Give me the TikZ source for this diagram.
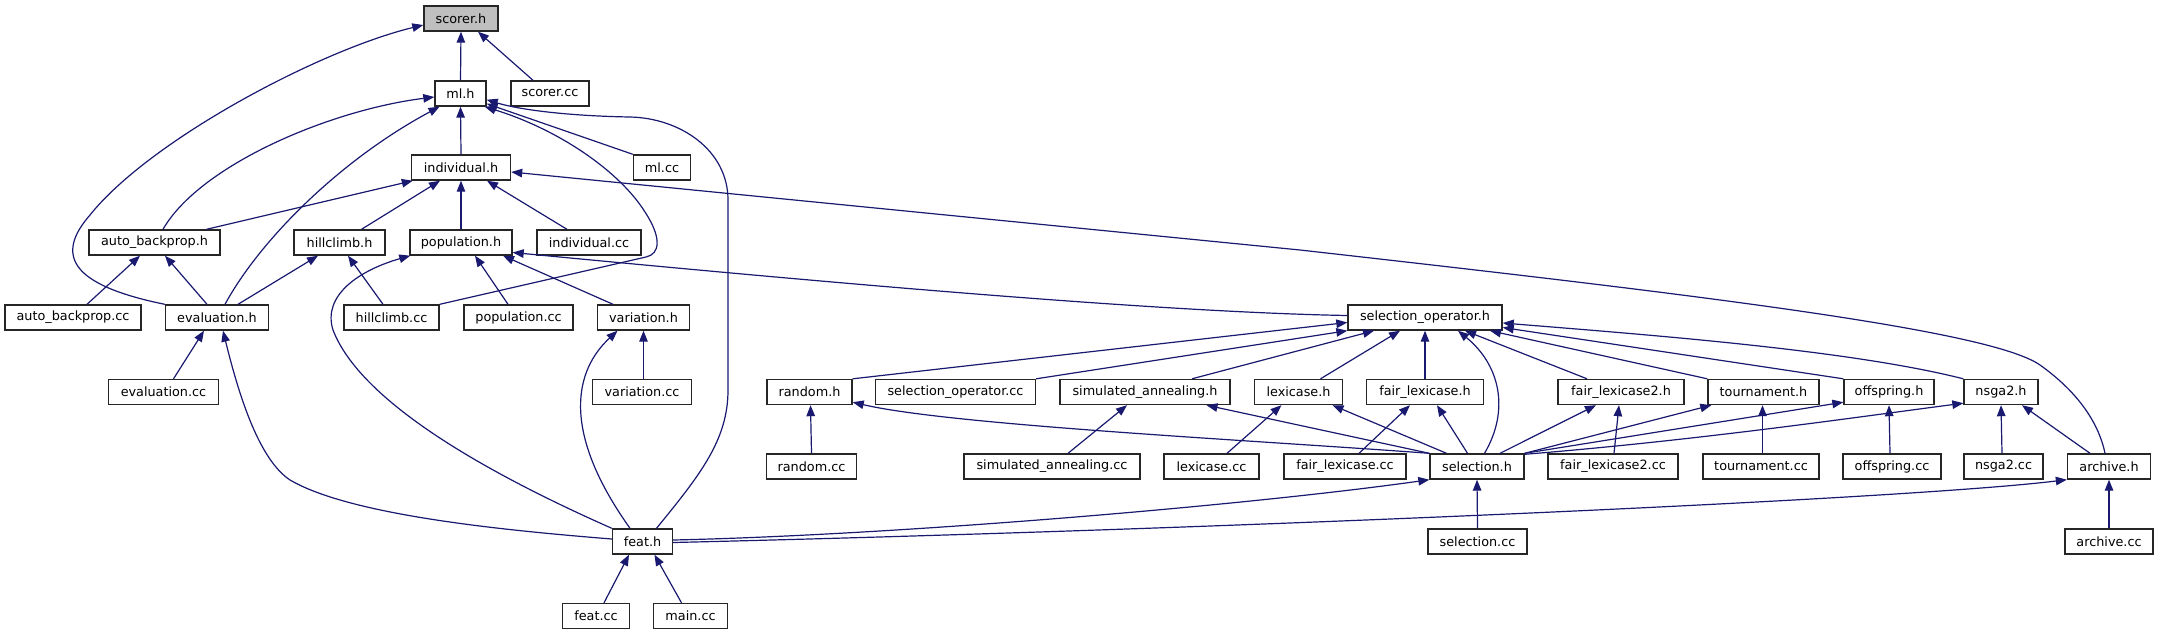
\documentclass[tikz,border=0pt]{standalone}
\usepackage{fontspec}
\setmainfont{DejaVu Sans}
\usetikzlibrary{arrows.meta}
\definecolor{midnight}{RGB}{25,25,112}
\definecolor{boxgray}{RGB}{191,191,191}
\begin{document}
\begin{tikzpicture}[x=1pt,y=-1pt,
  box/.style={draw=black!85, line width=1.4pt, minimum height=25pt, inner sep=0pt, fill=white,
    font=\fontsize{12.8pt}{15pt}\selectfont},
  dep/.style={draw=midnight, line width=1.2pt, {Triangle[length=11pt 0,width=8.5pt 0]}-}]
\useasboundingbox (0,0) rectangle (2159,635);
% row 0
\node[box, fill=boxgray, minimum width=74pt] (scorer) at (461,18.5) {scorer.h};
% row 1
\node[box, minimum width=51pt] (ml) at (460.5,93.5) {ml.h};
\node[box, minimum width=78pt] (scorercc) at (550,93.5) {scorer.cc};
% row 2
\node[box, minimum width=99pt] (ind) at (461,167.5) {individual.h};
\node[box, minimum width=57pt] (mlcc) at (662,167.5) {ml.cc};
% row 3
\node[box, minimum width=131pt] (ab) at (154.5,242.5) {auto\_backprop.h};
\node[box, minimum width=91pt] (hc) at (339.5,242.5) {hillclimb.h};
\node[box, minimum width=102pt] (pop) at (461,242.5) {population.h};
\node[box, minimum width=104pt] (indcc) at (589,242.5) {individual.cc};
% row 4
\node[box, minimum width=136pt] (abcc) at (73,317.5) {auto\_backprop.cc};
\node[box, minimum width=103pt] (ev) at (217,317.5) {evaluation.h};
\node[box, minimum width=95pt] (hcc) at (391.5,317.5) {hillclimb.cc};
\node[box, minimum width=109pt] (popcc) at (518.5,317.5) {population.cc};
\node[box, minimum width=92pt] (var) at (643.5,317.5) {variation.h};
\node[box, minimum width=154pt] (selop) at (1425,317.5) {selection\_operator.h};
% row 5
\node[box, minimum width=110pt] (evcc) at (163.5,392) {evaluation.cc};
\node[box, minimum width=99pt] (varcc) at (642,392) {variation.cc};
\node[box, minimum width=85pt] (rnd) at (809.5,392) {random.h};
\node[box, minimum width=160pt] (selopcc) at (955.5,392) {selection\_operator.cc};
\node[box, minimum width=170pt] (sah) at (1145,392) {simulated\_annealing.h};
\node[box, minimum width=88pt] (lex) at (1298.5,392) {lexicase.h};
\node[box, minimum width=117pt] (fl) at (1425,392) {fair\_lexicase.h};
\node[box, minimum width=126pt] (fl2) at (1621,392) {fair\_lexicase2.h};
\node[box, minimum width=111pt] (tour) at (1763.5,392) {tournament.h};
\node[box, minimum width=90pt] (off) at (1889,392) {offspring.h};
\node[box, minimum width=74pt] (nsga) at (2001,392) {nsga2.h};
% row 6
\node[box, minimum width=90pt] (rndcc) at (811.5,466.5) {random.cc};
\node[box, minimum width=176pt] (sacc) at (1052,466.5) {simulated\_annealing.cc};
\node[box, minimum width=95pt] (lexcc) at (1211.5,466.5) {lexicase.cc};
\node[box, minimum width=122pt] (flcc) at (1345,466.5) {fair\_lexicase.cc};
\node[box, minimum width=94pt] (sel) at (1477,466.5) {selection.h};
\node[box, minimum width=130pt] (fl2cc) at (1613,466.5) {fair\_lexicase2.cc};
\node[box, minimum width=116pt] (tourcc) at (1761,466.5) {tournament.cc};
\node[box, minimum width=98pt] (offcc) at (1892,466.5) {offspring.cc};
\node[box, minimum width=79pt] (nsgacc) at (2003.5,466.5) {nsga2.cc};
\node[box, minimum width=83pt] (arch) at (2109,466.5) {archive.h};
% row 7
\node[box, minimum width=60pt] (feat) at (642.5,541.5) {feat.h};
\node[box, minimum width=99pt] (selcc) at (1477.5,541.5) {selection.cc};
\node[box, minimum width=88pt] (archcc) at (2109,541.5) {archive.cc};
% row 8
\node[box, minimum width=67pt] (featcc) at (596,616) {feat.cc};
\node[box, minimum width=74pt] (maincc) at (690.5,616) {main.cc};

% ---- edges ----
\draw[dep] (scorer.south) -- (ml.north);
\draw[dep] ([xshift=17pt]scorer.south) -- ([xshift=-17pt]scorercc.north);
\draw[dep] ([yshift=-6.5pt]scorer.west) .. controls (320,50) and (150,140) .. (90,215) .. controls (55,255) and (70,285) .. (ev.north west);

\draw[dep] (ml.south) -- (ind.north);
\draw[dep] ([yshift=-3.5pt]ml.west) .. controls (330,110) and (200,165) .. ([xshift=8.5pt]ab.north);
\draw[dep] ([xshift=-21pt]ml.south) .. controls (340,160) and (260,240) .. ([xshift=8pt]ev.north);
\draw[dep] ([yshift=3pt]ml.south east) -- (mlcc.north west);
\draw[dep] ([xshift=-2pt]ml.south east) .. controls (560,130) and (620,172) .. (645,212) .. controls (662,238) and (660,254) .. (646,257) -- (hcc.north east);
\draw[dep] ([yshift=7pt]ml.south east) .. controls (520,110) and (570,116) .. (630,117) .. controls (680,118) and (728,150) .. (728,200) -- (728,390) .. controls (728,440) and (700,475) .. ([xshift=14pt]feat.north);

\draw[dep] ([xshift=2pt]ind.south west) -- ([xshift=52pt]ab.north);
\draw[dep] ([xshift=-21pt]ind.south) -- ([xshift=22pt]hc.north);
\draw[dep] (ind.south) -- (pop.north);
\draw[dep] ([xshift=26pt]ind.south) -- ([xshift=-22pt]indcc.north);
\draw[dep] ([yshift=-4.5pt]ind.east) -- (1300,250) .. controls (1700,295) and (1990,330) .. (2040,365) .. controls (2075,390) and (2098,420) .. ([xshift=-4pt]arch.north);

\draw[dep] ([xshift=8.5pt]hc.south) -- ([xshift=-8.5pt]hcc.north);
\draw[dep] ([xshift=-21.5pt]hc.south) -- ([xshift=21pt]ev.north);
\draw[dep] ([xshift=-14.5pt]ab.south) -- ([xshift=14pt]abcc.north);
\draw[dep] ([xshift=10.5pt]ab.south) -- ([xshift=-10pt]ev.north);

\draw[dep] ([xshift=1pt]pop.south west) .. controls (360,270) and (322,295) .. (333,330) .. controls (360,400) and (480,470) .. (feat.north west);
\draw[dep] ([xshift=14pt]pop.south) -- ([xshift=-10.5pt]popcc.north);
\draw[dep] ([xshift=42pt]pop.south) -- ([xshift=-30.5pt]var.north);
\draw[dep] ([yshift=-10pt]pop.east) .. controls (800,280) and (1150,312) .. ([yshift=2pt]selop.west);

\draw[dep] ([xshift=-13pt]ev.south) -- ([xshift=10pt]evcc.north);
\draw[dep] ([xshift=6pt]ev.south) .. controls (240,400) and (260,460) .. (290,480) .. controls (350,515) and (500,530) .. ([yshift=2.5pt]feat.west);

\draw[dep] (var.south) -- ([xshift=1.5pt]varcc.north);
\draw[dep] ([xshift=-26pt]var.south) .. controls (575,370) and (560,430) .. ([xshift=-12.5pt]feat.north);

\draw[dep] ([xshift=-13.5pt]feat.south) -- ([xshift=8pt]featcc.north);
\draw[dep] ([xshift=12pt]feat.south) -- ([xshift=-9pt]maincc.north);
\draw[dep] (sel.south west) .. controls (1250,505) and (900,535) .. ([yshift=1.5pt]feat.east);
\draw[dep] (arch.south west) .. controls (1900,500) and (1200,530) .. ([yshift=-1pt]feat.east);
\draw[dep] (sel.south) -- (selcc.north);
\draw[dep] (arch.south) -- (archcc.north);

\draw[dep] ([yshift=-5pt]selop.west) -- (rnd.north east);
\draw[dep] (selop.south west) -- (selopcc.north east);
\draw[dep] ([xshift=-51pt]selop.south) -- ([xshift=47pt]sah.north);
\draw[dep] ([xshift=-25pt]selop.south) -- ([xshift=22pt]lex.north);
\draw[dep] (selop.south) -- (fl.north);
\draw[dep] ([xshift=33pt]selop.south) .. controls (1500,365) and (1510,410) .. ([xshift=7.5pt]sel.north);
\draw[dep] ([xshift=40pt]selop.south) -- ([xshift=-34pt]fl2.north);
\draw[dep] ([xshift=65pt]selop.south) -- (tour.north west);
\draw[dep] ([yshift=-10pt]selop.east) -- (off.north west);
\draw[dep] ([yshift=-5.5pt]selop.east) .. controls (1650,335) and (1850,350) .. (nsga.north west);

\draw[dep] ([xshift=1pt]rnd.south) -- (rndcc.north);
\draw[dep] ([yshift=3pt]rnd.south east) .. controls (950,425) and (1250,440) .. (sel.north west);
\draw[dep] ([xshift=-18pt]sah.south) -- ([xshift=16pt]sacc.north);
\draw[dep] ([xshift=61.5pt]sah.south) -- (sel.north west);
\draw[dep] ([xshift=-17pt]lex.south) -- ([xshift=15.5pt]lexcc.north);
\draw[dep] ([xshift=34pt]lex.south) -- ([xshift=-30.5pt]sel.north);
\draw[dep] ([xshift=-15pt]fl.south) -- ([xshift=14pt]flcc.north);
\draw[dep] ([xshift=12pt]fl.south) -- ([xshift=-9.5pt]sel.north);
\draw[dep] ([xshift=-25pt]fl2.south) -- ([xshift=23pt]sel.north);
\draw[dep] ([xshift=-2pt]fl2.south) -- ([xshift=1pt]fl2cc.north);
\draw[dep] ([xshift=4pt]tour.south west) -- (sel.north east);
\draw[dep] ([xshift=-1pt]tour.south) -- ([xshift=1.5pt]tourcc.north);
\draw[dep] ([yshift=3pt]off.south west) -- (sel.north east);
\draw[dep] (off.south) -- ([xshift=-2pt]offcc.north);
\draw[dep] ([yshift=2pt]nsga.south west) .. controls (1850,418) and (1700,440) .. ([yshift=-1pt]sel.north east);
\draw[dep] (nsga.south) -- ([xshift=-1.5pt]nsgacc.north);
\draw[dep] ([xshift=21pt]nsga.south) -- ([xshift=-19pt]arch.north);
\end{tikzpicture}
\end{document}
